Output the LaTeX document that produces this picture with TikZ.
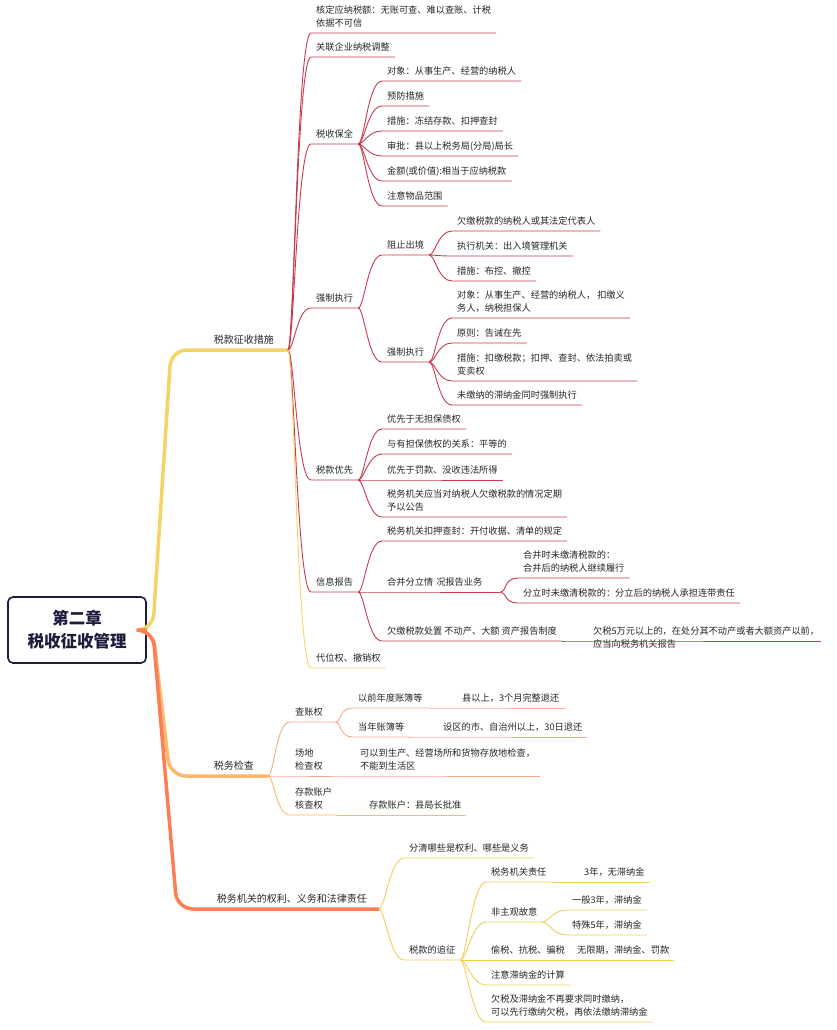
\documentclass[tikz,border=0pt]{standalone}
\usepackage{fontspec}
\setmainfont{Noto Sans CJK SC}
\definecolor{cyellow}{HTML}{F3D465}
\definecolor{ccrimson}{HTML}{C73A4F}
\definecolor{corange}{HTML}{FDB86A}
\definecolor{csalmon}{HTML}{F8AA8C}
\definecolor{ccoral}{HTML}{FB7E55}
\definecolor{cgold}{HTML}{F2CF5B}
\definecolor{cnavy}{HTML}{1C1C3C}
\definecolor{ctext}{HTML}{262626}
\begin{document}
\begin{tikzpicture}[x=1pt, y=-1pt,
  rootbox/.style={draw=cnavy, line width=1.6pt, rounded corners=5pt, fill=white, minimum width=138pt, minimum height=66pt, align=center, text=cnavy, font=\fontsize{16.5}{23}\selectfont\bfseries},
  mtopic/.style={anchor=south east, inner xsep=14pt, inner ysep=5pt, text depth=1.5pt, text=ctext, font=\fontsize{10}{13}\selectfont},
  topic/.style={anchor=south west, inner xsep=5pt, inner ysep=4.5pt, text depth=1.5pt, align=left, text=ctext, font=\fontsize{9.2}{13}\selectfont},
  trunk/.style={line width=3.5pt, rounded corners=16pt},
  link/.style={line width=.9pt, to path={.. controls +(6,0) and +(-14,0) .. (\tikztotarget)}},
]
\path[use as bounding box, fill=white] (0,0) rectangle (836,1030);
\node[rootbox] (root) at (77,630) {第二章\\税收征收管理};
% main branches
\node[mtopic] (cs) at (288,350) {税款征收措施};
\node[mtopic] (jc) at (268,776) {税务检查};
\node[mtopic, inner xsep=12pt] (ql) at (379,909) {税务机关的权利、义务和法律责任};
\coordinate (csbend) at (171,350);
\coordinate (jcbend) at (170,776);
\coordinate (qlbend) at (177,909);
\draw[trunk, cyellow] (root.east) -- ++(6,0) -- (csbend) -- (cs.south east);
\draw[trunk, corange] (root.east) -- ++(6,0) -- (jcbend) -- (jc.south east);
\draw[trunk, ccoral] (root.east) -- ++(6,0) -- (qlbend) -- (ql.south east);
% 税款征收措施
\node[topic] (hd) at (311,33) {核定应纳税额：无账可查、难以查账、计税\\依据不可信};
\node[topic] (gl) at (311,57) {关联企业纳税调整};
\node[topic] (bq) at (311,144) {税收保全};
\node[topic] (qz) at (311,308) {强制执行};
\node[topic] (yx) at (311,480) {税款优先};
\node[topic] (xx) at (311,592) {信息报告};
\node[topic] (dw) at (311,668) {代位权、撤销权};
\draw[link, ccrimson] (cs.south east) to (hd.south west) -- (hd.south east);
\draw[link, ccrimson] (cs.south east) to (gl.south west) -- (gl.south east);
\draw[link, ccrimson] (cs.south east) to (bq.south west) -- (bq.south east);
\draw[link, ccrimson] (cs.south east) to (qz.south west) -- (qz.south east);
\draw[link, ccrimson] (cs.south east) to (yx.south west) -- (yx.south east);
\draw[link, ccrimson] (cs.south east) to (xx.south west) -- (xx.south east);
\draw[link, cyellow] (cs.south east) to (dw.south west) -- (dw.south east);
% 税收保全
\node[topic] (bq1) at (382,81) {对象：从事生产、经营的纳税人};
\node[topic] (bq2) at (382,106) {预防措施};
\node[topic] (bq3) at (382,131) {措施：冻结存款、扣押查封};
\node[topic] (bq4) at (382,156) {审批：县以上税务局(分局)局长};
\node[topic] (bq5) at (382,181) {金额(或价值):相当于应纳税款};
\node[topic] (bq6) at (382,206) {注意物品范围};
\foreach \i in {1,...,6}
  \draw[link, ccrimson] (bq.south east) to (bq\i.south west) -- (bq\i.south east);
% 强制执行
\node[topic] (zz) at (382,255) {阻止出境};
\node[topic] (qe) at (382,362) {强制执行};
\draw[link, ccrimson] (qz.south east) to (zz.south west) -- (zz.south east);
\draw[link, ccrimson] (qz.south east) to (qe.south west) -- (qe.south east);
\node[topic] (zz1) at (452,231) {欠缴税款的纳税人或其法定代表人};
\node[topic] (zz2) at (452,256) {执行机关：出入境管理机关};
\node[topic] (zz3) at (452,281) {措施：布控、撤控};
\foreach \i in {1,2,3}
  \draw[link, ccrimson] (zz.south east) to (zz\i.south west) -- (zz\i.south east);
\node[topic] (qe1) at (452,318) {对象：从事生产、经营的纳税人， 扣缴义\\务人，纳税担保人};
\node[topic] (qe2) at (452,343) {原则：告诫在先};
\node[topic] (qe3) at (452,381) {措施：扣缴税款；扣押、查封、依法拍卖或\\变卖权};
\node[topic] (qe4) at (452,405) {未缴纳的滞纳金同时强制执行};
\foreach \i in {1,...,4}
  \draw[link, ccrimson] (qe.south east) to (qe\i.south west) -- (qe\i.south east);
% 税款优先
\node[topic] (yx1) at (382,429) {优先于无担保债权};
\node[topic] (yx2) at (382,454) {与有担保债权的关系：平等的};
\node[topic] (yx3) at (382,480) {优先于罚款、没收违法所得};
\node[topic] (yx4) at (382,517) {税务机关应当对纳税人欠缴税款的情况定期\\予以公告};
\foreach \i in {1,...,4}
  \draw[link, ccrimson] (yx.south east) to (yx\i.south west) -- (yx\i.south east);
% 信息报告
\node[topic] (xx1) at (382,541) {税务机关扣押查封：开付收据、清单的规定};
\node[topic, text width=108pt] (xx2) at (382,592) {合并分立情 况报告业务};
\node[topic] (xx3) at (382,641) {欠缴税款处置 不动产、大额 资产报告制度};
\foreach \i in {1,2,3}
  \draw[link, ccrimson] (xx.south east) to (xx\i.south west) -- (xx\i.south east);
\node[topic] (hb1) at (518,578) {合并时未缴清税款的：\\合并后的纳税人继续履行};
\node[topic] (hb2) at (518,603) {分立时未缴清税款的：分立后的纳税人承担连带责任};
\draw[link, ccrimson] (xx2.south east) to (hb1.south west) -- (hb1.south east);
\draw[link, ccrimson] (xx2.south east) to (hb2.south west) -- (hb2.south east);
\node[topic, text width=223pt] (bd1) at (588,641) {欠税5万元以上的，在处分其不动产或者大额资产以前，\\应当向税务机关报告};
\draw[link, ccrimson] (xx3.south east) to (bd1.south west) -- (bd1.south east);
% 税务检查
\node[topic, text width=35pt] (cz) at (290,722) {查账权};
\node[topic] (cd) at (290,776) {场地\\检查权};
\node[topic] (ck) at (290,815) {存款账户\\核查权};
\draw[link, csalmon] (jc.south east) to (cz.south west) -- (cz.south east);
\draw[link, csalmon] (jc.south east) to (cd.south west) -- (cd.south east);
\draw[link, corange] (jc.south east) to (ck.south west) -- (ck.south east);
\node[topic] (cz1) at (353,708) {以前年度账簿等};
\node[topic] (cz2) at (353,737) {当年账簿等};
\draw[link, csalmon] (cz.south east) to (cz1.south west) -- (cz1.south east);
\draw[link, csalmon] (cz.south east) to (cz2.south west) -- (cz2.south east);
\node[topic] (cz1a) at (457,708) {县以上，3个月完整退还};
\node[topic] (cz2a) at (438,737) {设区的市、自治州以上，30日退还};
\draw[link, csalmon] (cz1.south east) to (cz1a.south west) -- (cz1a.south east);
\draw[link, csalmon] (cz2.south east) to (cz2a.south west) -- (cz2a.south east);
\node[topic] (cd1) at (355,776) {可以到生产、经营场所和货物存放地检查，\\不能到生活区};
\draw[link, csalmon] (cd.south east) to (cd1.south west) -- (cd1.south east);
\node[topic] (ck1) at (364,815) {存款账户：县局长批准};
\draw[link, corange] (ck.south east) to (ck1.south west) -- (ck1.south east);
% 税务机关的权利、义务和法律责任
\node[topic] (fq) at (404,858) {分清哪些是权利、哪些是义务};
\node[topic] (zj) at (404,960) {税款的追征};
\draw[link, cgold] (ql.south east) to (fq.south west) -- (fq.south east);
\draw[link, cgold] (ql.south east) to (zj.south west) -- (zj.south east);
\node[topic] (zj1) at (486,882) {税务机关责任};
\node[topic] (zj2) at (486,922) {非主观故意};
\node[topic] (zj3) at (486,960) {偷税、抗税、骗税};
\node[topic] (zj4) at (486,985) {注意滞纳金的计算};
\node[topic] (zj5) at (486,1022) {欠税及滞纳金不再要求同时缴纳，\\可以先行缴纳欠税，再依法缴纳滞纳金};
\foreach \i in {1,...,5}
  \draw[link, cgold] (zj.south east) to (zj\i.south west) -- (zj\i.south east);
\node[topic] (zj1a) at (579,882) {3年，无滞纳金};
\node[topic] (zj2a) at (567,910) {一般3年，滞纳金};
\node[topic] (zj2b) at (567,935) {特殊5年，滞纳金};
\node[topic] (zj3a) at (572,960) {无限期，滞纳金、罚款};
\draw[link, cgold] (zj1.south east) to (zj1a.south west) -- (zj1a.south east);
\draw[link, cgold] (zj2.south east) to (zj2a.south west) -- (zj2a.south east);
\draw[link, cgold] (zj2.south east) to (zj2b.south west) -- (zj2b.south east);
\draw[link, cgold] (zj3.south east) to (zj3a.south west) -- (zj3a.south east);
\end{tikzpicture}
\end{document}
